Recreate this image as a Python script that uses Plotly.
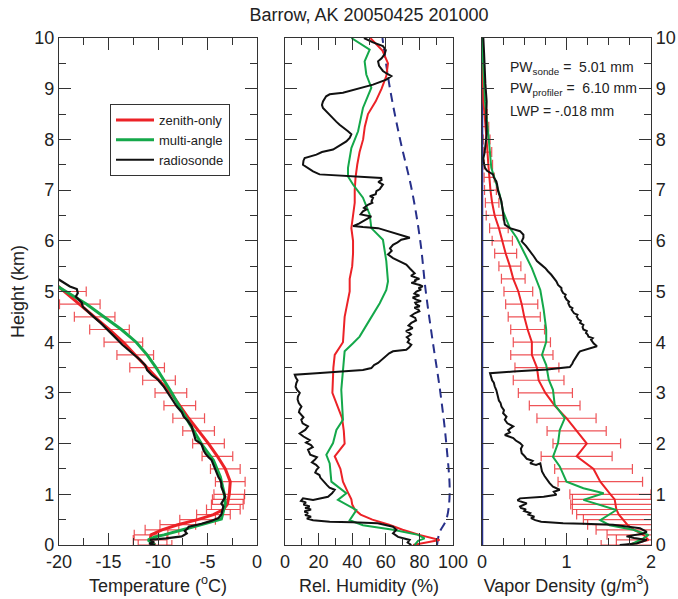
import plotly.graph_objects as go

# ---------------- data ----------------
# retrieval levels (km)
lev_t = [0.0, 0.1, 0.2, 0.3, 0.4, 0.5, 0.6, 0.7, 0.8, 0.9, 1.0,
         1.25, 1.5, 1.75, 2.0, 2.25, 2.5, 2.75, 3.0, 3.25, 3.5, 3.75, 4.0,
         4.25, 4.5, 4.75, 5.0, 5.25, 5.5]
t_zenith = [-10.3, -10.8, -10.7, -9.6, -8.0, -6.0, -4.4, -3.4, -3.0, -2.9, -2.8,
            -2.7, -3.2, -4.0, -4.9, -5.9, -6.9, -7.8, -8.7, -9.9, -11.1, -12.3, -13.5,
            -14.9, -16.4, -17.9, -19.3, -20.9, -22.5]
t_err = [1.7, 1.7, 1.7, 1.7, 1.8, 1.8, 1.7, 1.7, 1.6, 1.6, 1.55,
         1.5, 1.5, 1.55, 1.6, 1.6, 1.6, 1.6, 1.6, 1.65, 1.75, 1.85, 1.95,
         2.0, 2.05, 2.05, 2.05, None, None]

lev_tg = [0.0, 0.1, 0.16, 0.2, 0.3, 0.4, 0.51, 0.82, 1.0, 1.34, 1.67, 1.99, 2.25, 2.5,
          2.75, 3.0, 3.25, 3.5, 3.75, 4.0, 4.25, 4.5, 4.75, 5.0, 5.25]
t_multi = [-10.3, -11.0, -10.3, -9.4, -7.5, -5.6, -3.6, -3.2, -3.3, -3.7, -4.4, -5.6, -6.4, -7.2,
           -7.9, -8.6, -9.4, -10.2, -11.1, -12.2, -13.7, -15.4, -17.2, -19.3, -21.4]

lev_ts = [0.0, 0.03, 0.06, 0.1, 0.13, 0.17, 0.23, 0.28, 0.33, 0.36, 0.42, 0.47, 0.53, 0.6,
          0.68, 0.76, 0.82, 0.88, 0.95, 1.05, 1.15, 1.21, 1.28, 1.34, 1.41, 1.5, 1.6,
          1.68, 1.73, 1.8, 1.87, 1.93, 1.99, 2.07, 2.2, 2.34, 2.45, 2.53, 2.62, 2.73,
          2.85, 3.0, 3.12, 3.26, 3.35, 3.45, 3.55, 3.65, 3.75, 3.85, 3.95, 4.11, 4.25,
          4.38, 4.5, 4.6, 4.7, 4.78, 4.84, 4.9, 4.97, 5.05, 5.1, 5.18, 5.27]
t_sonde = [-10.3, -10.9, -10.4, -10.8, -9.2, -7.6, -7.1, -7.3, -7.0, -6.9, -5.6, -4.7, -3.9, -3.6,
           -3.5, -3.4, -3.6, -3.4, -3.2, -3.4, -3.6, -3.6, -3.7, -3.9, -4.05, -4.2, -4.4,
           -4.6, -4.9, -5.2, -5.4, -5.5, -5.6, -6.2, -6.4, -6.6, -7.0, -7.4, -7.6, -8.1,
           -8.5, -9.0, -9.4, -10.0, -10.6, -11.1, -11.3, -11.8, -12.4, -13.0, -13.6, -14.4, -15.1,
           -15.8, -16.5, -17.1, -17.6, -17.7, -18.0, -18.3, -18.1, -18.2, -18.9, -19.5, -20.3]

# relative humidity panel
lev_rh = [0.0, 0.1, 0.2, 0.3, 0.4, 0.5, 0.6, 0.7, 0.8, 0.9, 1.0,
          1.25, 1.5, 1.75, 2.0, 2.25, 2.5, 2.75, 3.0, 3.25, 3.5, 3.75, 4.0,
          4.25, 4.5, 4.75, 5.0, 5.25, 5.5, 5.75, 6.0, 6.25, 6.5, 6.75, 7.0,
          7.25, 7.5, 7.75, 8.0, 8.25, 8.5, 8.75, 9.0, 9.25, 9.5, 9.75, 10.0]
rh_zenith = [76.2, 92.0, 80.0, 70.0, 62.0, 52.0, 45.0, 41.5, 40.0, 39.5, 38.0,
             34.5, 33.0, 29.6, 35.5, 35.0, 34.0, 31.0, 28.2, 28.5, 28.8, 29.6, 34.5,
             35.0, 35.5, 37.0, 38.5, 38.5, 40.0, 40.5, 40.5, 39.5, 40.5, 41.5, 41.5,
             42.0, 43.0, 44.4, 46.5, 47.5, 49.4, 54.0, 57.5, 60.3, 61.3, 58.0, 50.8]

lev_rhg = [0.0, 0.08, 0.13, 0.2, 0.3, 0.39, 0.49, 0.69, 0.89, 1.02, 1.25, 1.61, 1.78, 2.01,
           2.27, 2.47, 3.06, 3.52, 3.82, 3.98, 4.11, 4.44, 4.77, 5.03, 5.2, 5.6, 6.02, 6.25,
           6.52, 6.85, 7.11, 7.27, 7.44, 7.83, 8.16, 8.62, 9.02, 9.28, 9.54, 9.77, 10.0]
rh_multi = [77.2, 79.2, 83.1, 79.2, 64.3, 46.4, 38.5, 42.5, 31.5, 36.5, 27.6, 26.6, 24.6, 28.6,
            30.6, 34.5, 33.5, 34.5, 35.5, 40.5, 44.4, 50.4, 56.4, 60.3, 61.3, 60.3, 58.3, 51.4,
            50.4, 46.4, 40.5, 37.5, 37.5, 39.5, 43.5, 46.4, 51.4, 48.4, 47.4, 50.4, 39.5]

lev_rhs = [0.0, 0.05, 0.1, 0.13, 0.16, 0.23, 0.3, 0.36, 0.43, 0.45, 0.46, 0.49, 0.52, 0.56,
           0.59, 0.63, 0.66, 0.7, 0.73, 0.76, 0.8, 0.84, 0.87, 0.92, 0.89, 0.95, 1.02, 1.09,
           1.13, 1.18, 1.23, 1.28, 1.33, 1.38, 1.43, 1.48, 1.53, 1.58, 1.63, 1.68, 1.73, 1.78,
           1.83, 1.88, 1.93, 1.97, 2.02, 2.07, 2.14, 2.2, 2.27, 2.34, 2.4, 2.47, 2.52, 2.57,
           2.62, 2.67, 2.73, 2.8, 2.87, 2.93, 3.0, 3.06, 3.12, 3.19, 3.25, 3.3, 3.36, 3.39,
           3.42, 3.45, 3.49, 3.55, 3.59, 3.66, 3.72, 3.78, 3.82, 3.85, 3.9, 3.95, 4.0, 4.05,
           4.1, 4.15, 4.18, 4.22, 4.28, 4.33, 4.38, 4.43, 4.48, 4.52, 4.57, 4.61, 4.64, 4.68,
           4.71, 4.75, 4.78, 4.81, 4.84, 4.88, 4.92, 4.96, 5.0, 5.04, 5.07, 5.1, 5.13, 5.17,
           5.2, 5.22, 5.25, 5.27, 5.31, 5.36, 5.41, 5.45, 5.53, 5.6, 5.66, 5.73, 5.8, 5.85,
           5.92, 5.97, 6.02, 6.06, 6.12, 6.19, 6.25, 6.27, 6.29, 6.34, 6.39, 6.44, 6.48, 6.52,
           6.58, 6.62, 6.65, 6.71, 6.75, 6.78, 6.85, 6.88, 6.92, 6.98, 7.02, 7.05, 7.11, 7.16,
           7.2, 7.24, 7.26, 7.27, 7.31, 7.37, 7.44, 7.5, 7.58, 7.63, 7.7, 7.75, 7.8, 7.88,
           7.96, 8.03, 8.1, 8.16, 8.22, 8.29, 8.35, 8.4, 8.49, 8.58, 8.62, 8.68, 8.75, 8.85,
           8.89, 8.92, 8.97, 9.02, 9.08, 9.18, 9.25, 9.3, 9.35, 9.45, 9.54, 9.6, 9.68, 9.76,
           9.84, 9.92, 10.0]
rh_sonde = [75.2, 73.0, 74.2, 70.0, 67.3, 64.3, 66.3, 64.3, 55.2, 40.0, 26.6, 16.7, 13.0, 15.5,
            12.0, 13.7, 11.5, 15.5, 12.0, 14.7, 11.0, 12.5, 9.5, 10.7, 16.7, 25.6, 28.0, 29.6,
            26.5, 25.0, 23.5, 22.6, 21.0, 20.5, 18.0, 18.7, 20.0, 18.5, 16.0, 17.7, 19.0, 15.0,
            14.2, 13.7, 16.5, 15.5, 12.5, 14.7, 11.0, 8.7, 12.0, 13.7, 10.5, 9.7, 11.0, 9.5,
            8.3, 8.7, 9.8, 8.2, 7.5, 7.7, 8.8, 7.2, 6.3, 6.7, 7.5, 6.5, 5.8, 18.7,
            34.5, 46.4, 51.4, 53.0, 55.4, 58.0, 60.3, 62.0, 64.3, 72.2, 74.0, 75.2, 73.0, 74.0,
            72.5, 75.0, 74.2, 72.0, 76.0, 73.5, 75.2, 78.0, 77.5, 75.0, 77.2, 80.0, 79.5, 77.0,
            80.2, 78.0, 77.5, 81.0, 78.2, 76.0, 80.0, 77.0, 78.2, 81.0, 79.5, 82.0, 80.2, 75.2,
            78.0, 77.0, 80.0, 78.2, 75.0, 77.2, 75.5, 74.5, 72.2, 68.0, 64.3, 61.3, 63.5, 62.5,
            64.3, 67.0, 69.2, 74.3, 68.3, 62.3, 55.4, 46.4, 40.5, 44.0, 46.4, 49.0, 51.4, 45.0,
            46.4, 48.5, 47.0, 49.4, 52.0, 51.5, 52.4, 50.5, 54.0, 54.4, 56.5, 57.0, 58.3, 55.5,
            57.5, 57.3, 45.0, 38.5, 20.6, 16.7, 13.0, 10.7, 11.0, 11.7, 18.7, 22.0, 28.6, 33.0,
            36.5, 38.5, 39.5, 37.5, 35.0, 32.5, 30.5, 29.0, 26.6, 23.5, 22.6, 22.0, 22.6, 24.5,
            26.6, 34.5, 40.0, 44.4, 52.4, 60.3, 63.3, 60.5, 58.3, 56.0, 55.4, 57.5, 59.3, 60.0,
            58.3, 52.0, 47.0]

lev_sat = [0.0, 0.25, 0.5, 1.0, 2.0, 3.0, 4.0, 5.0, 6.0, 7.0, 8.0, 9.0, 10.0]
rh_dash = [90.5, 92.0, 96.0, 98.0, 96.0, 92.5, 88.0, 83.8, 80.5, 75.5, 68.5, 62.5, 58.0]

# vapor density panel
vd_zenith = [1.71, 1.97, 1.91, 1.80, 1.72, 1.67, 1.62, 1.59, 1.58, 1.57, 1.52,
             1.40, 1.32, 1.12, 1.24, 1.12, 1.00, 0.86, 0.75, 0.67, 0.65, 0.59, 0.59,
             0.54, 0.50, 0.47, 0.43, 0.37, 0.33, 0.28, 0.24, 0.20, 0.15, 0.12, 0.10,
             0.085, 0.075, 0.065, 0.055, 0.04, 0.03, 0.016, 0.012, 0.008, 0.005, 0.003, 0.002]
vd_err = [0.3, 0.38, 0.43, 0.45, 0.47, 0.47, 0.5, 0.52, 0.53, 0.5, 0.48,
          0.5, 0.46, 0.42, 0.4, 0.35, 0.35, 0.3, 0.32, 0.3, 0.26, 0.25, 0.22,
          0.2, 0.19, 0.19, 0.17, 0.14, 0.13, 0.13, 0.12, 0.11, 0.1, 0.08, 0.07,
          0.06, 0.05, 0.05, 0.04, 0.04, 0.03, None, None, None, None, None, None]

lev_vg = [0.0, 0.13, 0.2, 0.3, 0.39, 0.49, 0.69, 0.89, 1.02, 1.12, 1.25, 1.55, 1.74, 2.01,
          2.27, 2.5, 2.77, 3.06, 3.26, 3.55, 3.75, 4.01, 4.25, 4.64, 5.03, 5.2, 5.46, 5.73,
          6.06, 6.25, 6.58, 6.91, 7.24, 7.44, 8.1, 8.75, 9.41, 10.0]
vd_multi = [1.75, 1.91, 1.97, 1.79, 1.51, 1.40, 1.59, 1.20, 1.44, 1.20, 1.00, 0.92, 0.84, 0.90,
            0.92, 0.98, 0.86, 0.84, 0.79, 0.76, 0.71, 0.76, 0.76, 0.73, 0.69, 0.65, 0.59, 0.51,
            0.41, 0.33, 0.25, 0.21, 0.15, 0.11, 0.075, 0.035, 0.016, 0.0]

lev_vs = [0.0, 0.03, 0.07, 0.1, 0.14, 0.17, 0.22, 0.26, 0.33, 0.37, 0.4, 0.42, 0.43, 0.46,
          0.49, 0.53, 0.56, 0.6, 0.63, 0.67, 0.7, 0.73, 0.76, 0.82, 0.85, 0.88, 0.92, 0.95,
          0.99, 1.05, 1.09, 1.15, 1.22, 1.28, 1.36, 1.45, 1.55, 1.61, 1.58, 1.61, 1.66, 1.7,
          1.76, 1.81, 1.9, 1.96, 2.01, 2.06, 2.11, 2.17, 2.22, 2.27, 2.34, 2.4, 2.47, 2.53,
          2.6, 2.66, 2.73, 2.8, 2.85, 2.93, 3.0, 3.05, 3.13, 3.2, 3.25, 3.32, 3.39,
          3.42, 3.46, 3.51, 3.55, 3.58, 3.62, 3.68, 3.72, 3.78, 3.82, 3.88, 3.92, 3.98, 4.05,
          4.08, 4.11, 4.15, 4.18, 4.22, 4.25, 4.3, 4.34, 4.38, 4.42, 4.45, 4.51, 4.54, 4.57,
          4.64, 4.67, 4.7, 4.77, 4.8, 4.84, 4.9, 4.94, 4.97, 5.03, 5.07, 5.13, 5.2, 5.27,
          5.33, 5.4, 5.46, 5.53, 5.6, 5.7, 5.79, 5.9, 5.99, 6.06, 6.12, 6.19, 6.25, 6.32,
          6.42, 6.52, 6.65, 6.78, 6.88, 6.98, 7.1, 7.17, 7.25, 7.31, 7.38, 7.44, 7.55, 7.63,
          7.73, 7.83, 8.0, 8.1, 8.4, 8.75, 9.1, 9.41, 9.7, 10.0]
vd_sonde = [1.63, 1.83, 1.90, 1.95, 1.80, 1.71, 1.90, 1.95, 1.87, 1.70, 1.55, 1.20, 0.96, 0.70,
            0.63, 0.58, 0.62, 0.55, 0.57, 0.50, 0.52, 0.46, 0.45, 0.53, 0.47, 0.42, 0.45, 0.73,
            0.88, 0.85, 0.92, 0.84, 0.80, 0.77, 0.74, 0.71, 0.70, 0.69, 0.64, 0.57, 0.60, 0.53,
            0.50, 0.47, 0.46, 0.48, 0.45, 0.40, 0.37, 0.27, 0.33, 0.31, 0.37, 0.30, 0.27, 0.29,
            0.25, 0.26, 0.23, 0.22, 0.20, 0.19, 0.18, 0.17, 0.15, 0.14, 0.12, 0.11, 0.095,
            0.37, 0.77, 1.04, 1.06, 1.07, 1.08, 1.10, 1.12, 1.14, 1.16, 1.30, 1.36, 1.32, 1.29,
            1.31, 1.26, 1.25, 1.23, 1.24, 1.20, 1.19, 1.20, 1.16, 1.17, 1.14, 1.12, 1.13, 1.09,
            1.06, 1.07, 1.04, 1.02, 1.03, 1.00, 0.98, 0.99, 0.96, 0.94, 0.94, 0.90, 0.88, 0.85,
            0.82, 0.78, 0.75, 0.70, 0.65, 0.61, 0.57, 0.52, 0.47, 0.49, 0.49, 0.45, 0.33, 0.27,
            0.26, 0.25, 0.24, 0.23, 0.21, 0.19, 0.18, 0.17, 0.14, 0.13, 0.06, 0.035, 0.02, 0.016,
            0.03, 0.035, 0.05, 0.055, 0.05, 0.055, 0.04, 0.035, 0.025, 0.016]

lev_liq = [0.0, 10.0]
liq = [0.0, 0.0]

annot_lines = ["PW<sub>sonde</sub> =&nbsp; 5.01 mm",
               "PW<sub>profiler</sub> =&nbsp; 6.10 mm",
               "LWP = -.018 mm"]

# ---------------- style ----------------
RED = "#ec2227"
GREEN = "#14a84a"
BLACK = "#111111"
NAVY = "#27308a"
ERR = "rgba(234,40,45,0.8)"
AX = "#333333"
FONT = "Liberation Sans, Arial, sans-serif"

W, H = 678, 599
ML, MR, MT, MB = 59, 27, 38, 54
PW_, PH_ = W - ML - MR, H - MT - MB


def px2x(px):
    return (px - ML) / PW_


def py2y(py):
    return (H - MB - py) / PH_


fig = go.Figure()

# Panel 1: temperature
fig.add_trace(go.Scatter(x=t_zenith, y=lev_t, mode="markers", xaxis="x", yaxis="y",
                         marker=dict(size=1, color="rgba(0,0,0,0)"), showlegend=False,
                         error_x=dict(type="data", array=t_err, color=ERR, thickness=1.2, width=5)))
fig.add_trace(go.Scatter(x=t_zenith, y=lev_t, mode="lines", name="zenith-only", xaxis="x", yaxis="y",
                         line=dict(color=RED, width=3)))
fig.add_trace(go.Scatter(x=t_multi, y=lev_tg, mode="lines", name="multi-angle", xaxis="x", yaxis="y",
                         line=dict(color=GREEN, width=3)))
fig.add_trace(go.Scatter(x=t_sonde, y=lev_ts, mode="lines", name="radiosonde", xaxis="x", yaxis="y",
                         line=dict(color=BLACK, width=2.2)))

# Panel 2: RH
fig.add_trace(go.Scatter(x=rh_dash, y=lev_sat, mode="lines", xaxis="x2", yaxis="y2", showlegend=False,
                         line=dict(color=NAVY, width=2, dash="9px,6px", shape="spline")))
fig.add_trace(go.Scatter(x=rh_zenith, y=lev_rh, mode="lines", xaxis="x2", yaxis="y2", showlegend=False,
                         line=dict(color=RED, width=2)))
fig.add_trace(go.Scatter(x=rh_multi, y=lev_rhg, mode="lines", xaxis="x2", yaxis="y2", showlegend=False,
                         line=dict(color=GREEN, width=2)))
fig.add_trace(go.Scatter(x=rh_sonde, y=lev_rhs, mode="lines", xaxis="x2", yaxis="y2", showlegend=False,
                         line=dict(color=BLACK, width=2)))

# Panel 3: vapor density
fig.add_trace(go.Scatter(x=vd_zenith, y=lev_rh, mode="markers", xaxis="x3", yaxis="y3",
                         marker=dict(size=1, color="rgba(0,0,0,0)"), showlegend=False,
                         error_x=dict(type="data", array=vd_err, color=ERR, thickness=1.2, width=5)))
fig.add_trace(go.Scatter(x=liq, y=lev_liq, mode="lines", xaxis="x3", yaxis="y3", showlegend=False,
                         line=dict(color=NAVY, width=2.5)))
fig.add_trace(go.Scatter(x=vd_zenith, y=lev_rh, mode="lines", xaxis="x3", yaxis="y3", showlegend=False,
                         line=dict(color=RED, width=2)))
fig.add_trace(go.Scatter(x=vd_multi, y=lev_vg, mode="lines", xaxis="x3", yaxis="y3", showlegend=False,
                         line=dict(color=GREEN, width=2)))
fig.add_trace(go.Scatter(x=vd_sonde, y=lev_vs, mode="lines", xaxis="x3", yaxis="y3", showlegend=False,
                         line=dict(color=BLACK, width=2)))

TICKF = dict(size=18, color="#222")
TITF = dict(size=18, color="#222")


def xax(dom, rng, tv, tt, mdt, title, anchor):
    return dict(domain=dom, range=rng, anchor=anchor, tickmode="array", tickvals=tv, ticktext=tt,
                showline=True, linecolor=AX, linewidth=1.3, mirror="allticks", ticks="inside",
                ticklen=12, tickwidth=1.2, tickcolor=AX, showgrid=False, zeroline=False,
                tickfont=TICKF, automargin=False,
                minor=dict(tickmode="linear", tick0=0, dtick=mdt, ticks="inside", ticklen=7,
                           tickwidth=1.2, tickcolor=AX, showgrid=False),
                title=dict(text=title, font=TITF, standoff=8))


def yax(anchor, showlabels, side="left", title=None):
    d = dict(domain=[0, 1], range=[0, 10], anchor=anchor, side=side, tickmode="linear", tick0=0, dtick=1,
             showline=True, linecolor=AX, linewidth=1.3, mirror="allticks", ticks="inside",
             ticklen=12, tickwidth=1.2, tickcolor=AX, showgrid=False, zeroline=False,
             showticklabels=showlabels, tickfont=TICKF, automargin=False,
             minor=dict(tickmode="linear", tick0=0, dtick=0.5, ticks="inside", ticklen=7,
                        tickwidth=1.2, tickcolor=AX, showgrid=False))
    if title:
        d["title"] = dict(text=title, font=TITF, standoff=4)
    return d


fig.update_layout(
    width=W, height=H, margin=dict(l=ML, r=MR, t=MT, b=MB, autoexpand=False),
    paper_bgcolor="white", plot_bgcolor="white",
    font=dict(family=FONT, color="#222"),
    title=dict(text="Barrow, AK 20050425 201000", x=369 / W, xanchor="center", y=1 - 15 / H,
               yanchor="middle", font=dict(size=18, color="#222")),
    xaxis=xax([px2x(59), px2x(257)], [-20, 0], [-20, -15, -10, -5, 0], ["-20", "-15", "-10", "-5", "0"],
              2.5, "Temperature (<sup>o</sup>C)", "y"),
    xaxis2=xax([px2x(285), px2x(453)], [0, 100], [0, 20, 40, 60, 80, 100],
               ["0", "20", "40", "60", "80", "100"], 10, "Rel. Humidity (%)", "y2"),
    xaxis3=xax([px2x(482), px2x(651)], [0, 2], [0, 1, 2], ["0", "1", "2"],
               0.25, "Vapor Density (g/m<sup>3</sup>)", "y3"),
    yaxis=yax("x", True, "left", "Height (km)"),
    yaxis2=yax("x2", False),
    yaxis3=yax("x3", True, "right"),
    legend=dict(x=px2x(110), y=py2y(104), xanchor="left", yanchor="top", bgcolor="white",
                bordercolor="#333", borderwidth=1, font=dict(size=13, color="#222"),
                itemwidth=38, tracegroupgap=0),
)

for i, txt in enumerate(annot_lines):
    fig.add_annotation(text=txt, xref="paper", yref="paper", x=px2x(508), y=py2y(68 + 21.5 * i),
                       xanchor="left", yanchor="middle", showarrow=False,
                       font=dict(size=14, color="#222"))

fig.write_html("out.html")
